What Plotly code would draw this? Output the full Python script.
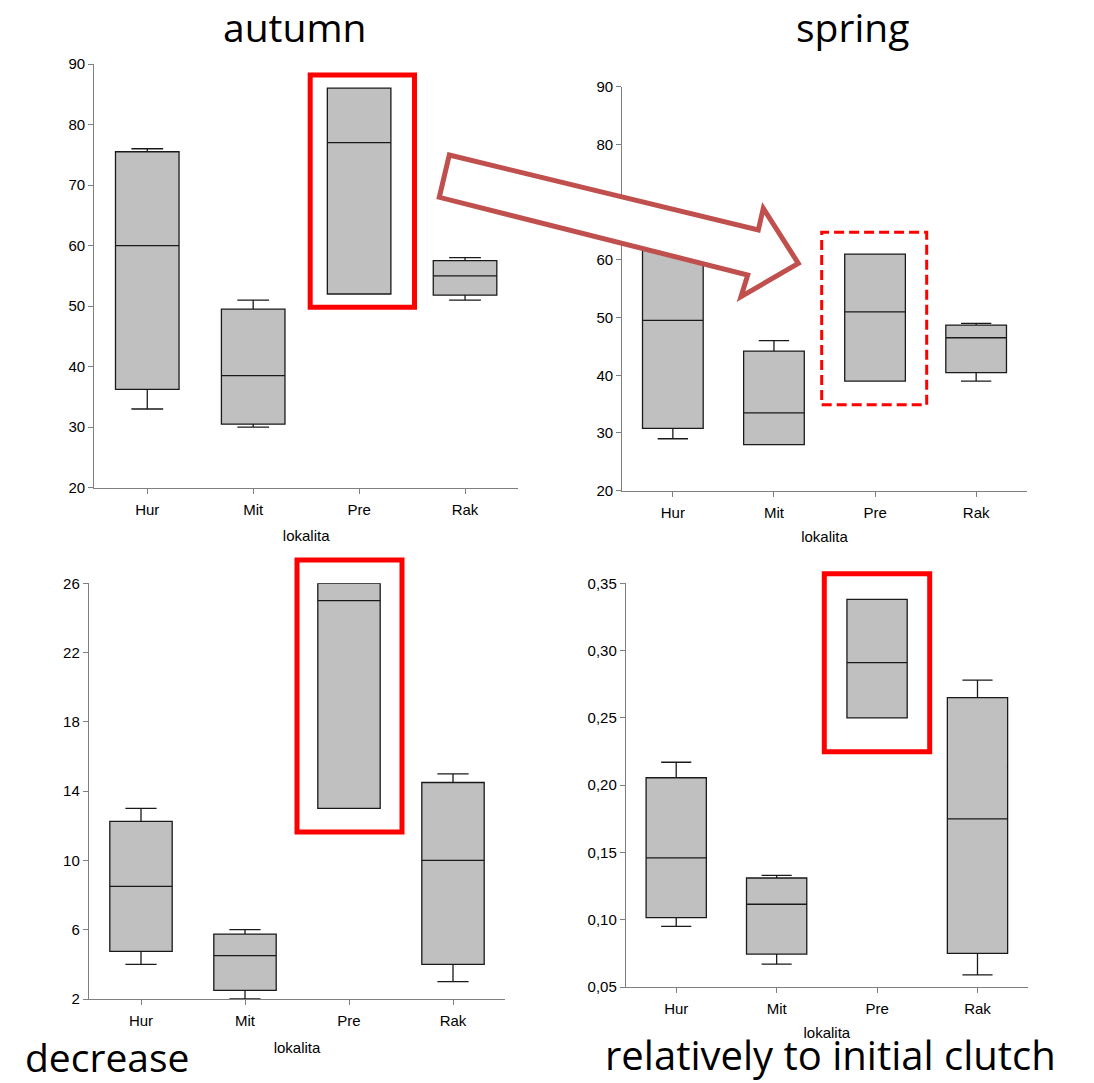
import plotly.graph_objects as go

W, H = 1094, 1083

categories = ["Hur", "Mit", "Pre", "Rak"]

# autumn
aut_low = [33, 30, 52, 51]
aut_q1 = [36.25, 30.5, 52, 51.8]
aut_med = [60, 38.5, 77, 55]
aut_q3 = [75.5, 49.5, 86, 57.5]
aut_high = [76, 51, 86, 58]

# spring
spr_low = [29, 28, 39, 39]
spr_q1 = [30.8, 28, 39, 40.45]
spr_med = [49.5, 33.5, 51, 46.5]
spr_q3 = [63, 44.2, 61, 48.7]
spr_high = [65, 46, 61, 49]

# decrease
dec_low = [4, 2, 13, 3]
dec_q1 = [4.75, 2.5, 13, 4]
dec_med = [8.5, 4.5, 25, 10]
dec_q3 = [12.25, 5.75, 26, 14.5]
dec_high = [13, 6, 26, 15]

# relatively to initial clutch
rel_low = [0.095, 0.067, 0.25, 0.059]
rel_q1 = [0.1015, 0.0745, 0.25, 0.075]
rel_med = [0.146, 0.1115, 0.291, 0.175]
rel_q3 = [0.2055, 0.131, 0.338, 0.265]
rel_high = [0.217, 0.133, 0.338, 0.278]

ticks_top = [20, 30, 40, 50, 60, 70, 80, 90]
ticks_dec = [2, 6, 10, 14, 18, 22, 26]
ticks_rel = [0.05, 0.10, 0.15, 0.20, 0.25, 0.30, 0.35]
ticks_rel_text = ["0,05", "0,10", "0,15", "0,20", "0,25", "0,30", "0,35"]

titles = ["autumn", "spring", "decrease", "relatively to initial clutch"]
xlabel = "lokalita"


def px(x):
    return x / W


def py(y):
    return 1 - y / H


panels = [
    dict(data=(aut_low, aut_q1, aut_med, aut_q3, aut_high), xd=(94.3, 518), yd=(64, 487.7),
         yr=[20, 90], tv=ticks_top, tt=[str(t) for t in ticks_top], so=13.5),
    dict(data=(spr_low, spr_q1, spr_med, spr_q3, spr_high), xd=(622.3, 1026.7), yd=(86.7, 490.7),
         yr=[20, 90], tv=ticks_top, tt=[str(t) for t in ticks_top], so=11),
    dict(data=(dec_low, dec_q1, dec_med, dec_q3, dec_high), xd=(89, 505), yd=(583.3, 999),
         yr=[2, 26], tv=ticks_dec, tt=[str(t) for t in ticks_dec], so=13.5),
    dict(data=(rel_low, rel_q1, rel_med, rel_q3, rel_high), xd=(626, 1027.7), yd=(583.3, 987),
         yr=[0.05, 0.35], tv=ticks_rel, tt=ticks_rel_text, so=11),
]

AX = "#7f7f7f"
FONT = "Liberation Sans, Arial, sans-serif"

fig = go.Figure()
layout = dict(
    width=W, height=H, margin=dict(l=0, r=0, t=0, b=0),
    paper_bgcolor="white", plot_bgcolor="white", showlegend=False,
    font=dict(family=FONT, size=15, color="black"),
)

for i, p in enumerate(panels):
    n = "" if i == 0 else str(i + 1)
    lo, q1, med, q3, hi = p["data"]
    fig.add_trace(go.Box(
        x=categories, q1=q1, median=med, q3=q3, lowerfence=lo, upperfence=hi,
        fillcolor="#c0c0c0", line=dict(color="#1a1a1a", width=1.3),
        width=0.6, whiskerwidth=0.5, boxpoints=False,
        xaxis="x" + n, yaxis="y" + n, name=titles[i],
    ))
    layout["xaxis" + n] = dict(
        domain=[px(p["xd"][0]), px(p["xd"][1])], anchor="y" + n,
        type="category", range=[-0.5, 3.5],
        showline=True, linecolor=AX, linewidth=1.4, ticks="outside", ticklen=5,
        tickcolor=AX, tickwidth=1.2, showgrid=False, zeroline=False,
        ticklabelstandoff=3,
        tickfont=dict(family=FONT, size=15, color="black"),
        title=dict(text=xlabel, font=dict(family=FONT, size=15, color="black"), standoff=p["so"]),
        automargin=False, fixedrange=True,
    )
    layout["yaxis" + n] = dict(
        domain=[py(p["yd"][1]), py(p["yd"][0])], anchor="x" + n,
        range=p["yr"], tickvals=p["tv"], ticktext=p["tt"],
        showline=True, linecolor=AX, linewidth=1.4, ticks="outside", ticklen=5,
        tickcolor=AX, tickwidth=1.2, showgrid=False, zeroline=False,
        tickfont=dict(family=FONT, size=15, color="black"),
        automargin=False, fixedrange=True,
    )

fig.update_layout(**layout)

RED = "#ff0000"
shapes = []


def rect(x0, y0, x1, y1, width, dash="solid"):
    return dict(type="rect", xref="paper", yref="paper",
                x0=px(x0), x1=px(x1), y0=py(y1), y1=py(y0),
                line=dict(color=RED, width=width, dash=dash), layer="above")


shapes.append(rect(310.2, 75, 414.5, 307.2, 5))
shapes.append(rect(821.7, 232.3, 926.7, 404.7, 3, "10px,5px"))
shapes.append(rect(297, 560, 402, 832, 5))
shapes.append(rect(824.3, 573.7, 929.7, 751.7, 5))

arrow_pts = [(449.3, 155), (758.3, 230), (763.3, 208.3), (798.3, 263.3),
             (741, 296.7), (747.7, 275), (439.3, 197.3)]
path = "M " + " L ".join(f"{px(x):.5f},{py(y):.5f}" for x, y in arrow_pts) + " Z"
shapes.append(dict(type="path", xref="paper", yref="paper", path=path,
                   fillcolor="white", line=dict(color="#c0504d", width=5),
                   layer="above"))

fig.update_layout(shapes=shapes)

TFONT = "Open Sans, Lato, sans-serif"
title_pos = [(294.5, 26.5, 39), (852.5, 26.5, 39), (106.7, 1056, 39), (830, 1054, 40)]
for t, (x, y, s) in zip(titles, title_pos):
    fig.add_annotation(text=t, x=px(x), y=py(y), xref="paper", yref="paper",
                       xanchor="center", yanchor="middle", showarrow=False,
                       font=dict(family=TFONT, size=s, color="black"))

fig.write_html("out.html")
